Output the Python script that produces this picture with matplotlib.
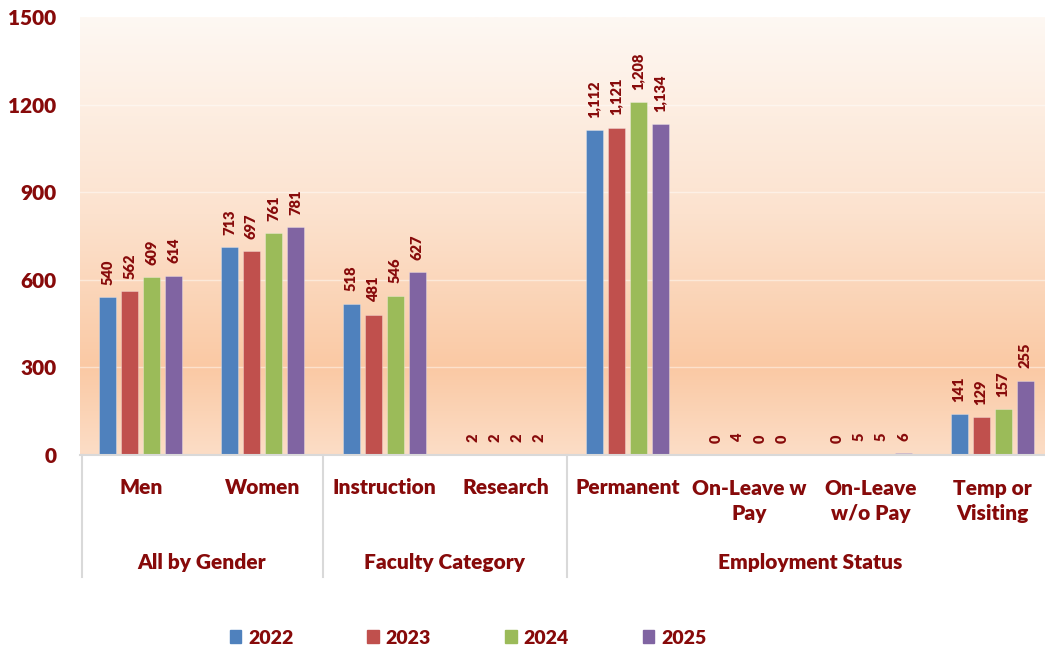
import numpy as np
import matplotlib
matplotlib.use("Agg")
import matplotlib.pyplot as plt
from matplotlib.colors import LinearSegmentedColormap
from matplotlib.lines import Line2D
import matplotlib.transforms as mtransforms

categories = ["Men", "Women", "Instruction", "Research", "Permanent",
              "On-Leave w\nPay", "On-Leave\nw/o Pay", "Temp or\nVisiting"]
groups = ["All by Gender", "Faculty Category", "Employment Status"]
group_spans = [(0, 1), (2, 3), (4, 7)]
years = ["2022", "2023", "2024", "2025"]
v2022 = [540, 713, 518, 2, 1112, 0, 0, 141]
v2023 = [562, 697, 481, 2, 1121, 4, 5, 129]
v2024 = [609, 761, 546, 2, 1208, 0, 5, 157]
v2025 = [614, 781, 627, 2, 1134, 0, 6, 255]
series = [v2022, v2023, v2024, v2025]
colors = ["#4F81BD", "#C0504D", "#9BBB59", "#8064A2"]
yticks = [0, 300, 600, 900, 1200, 1500]

TXT = "#870A0A"
FONT = "Lato"
WT = "heavy"

W, H = 1045, 652
fig = plt.figure(figsize=(W / 100, H / 100), dpi=100)
left_px, right_px, top_px, bot_px = 80, 1045, 17, 455
ax = fig.add_axes([left_px / W, 1 - bot_px / H, (right_px - left_px) / W, (bot_px - top_px) / H])

# gradient background
cmap = LinearSegmentedColormap.from_list("bg", [(0, "#FCDDC6"), (0.2, "#FAC9A4"), (0.55, "#FCE2CE"), (1, "#FEF8F3")])
grad = np.linspace(0, 1, 256).reshape(-1, 1)
ax.imshow(grad, extent=[0, 1, 0, 1], transform=ax.transAxes, cmap=cmap, origin="lower",
          aspect="auto", zorder=0)

x = np.arange(len(categories))
step = 0.181
bw = 0.14
for i, (vals, c, yr) in enumerate(zip(series, colors, years)):
    xs = x + (i - 1.5) * step
    ax.bar(xs, vals, width=bw, color=c, edgecolor=(1, 1, 1, 0.35), linewidth=0.6, zorder=3, label=yr)
    for xi, v in zip(xs, vals):
        ax.text(xi, v + 42, f"{v:,}", rotation=90, ha="center", va="bottom",
                fontsize=10.5, fontweight=WT, color=TXT, family=FONT, zorder=4)

ax.set_xlim(-0.5, (right_px - 141) / 121.6)
ax.set_ylim(0, 1500)
ax.set_yticks(yticks)
ax.set_yticklabels([str(t) for t in yticks], fontsize=15, fontweight=WT, color=TXT, family=FONT)
ax.tick_params(axis="y", length=0, pad=17)
ax.set_xticks([])
for t in yticks[1:-1]:
    ax.axhline(t, color="white", alpha=0.45, lw=1, zorder=1)
for s in ["top", "right", "left"]:
    ax.spines[s].set_visible(False)
ax.spines["bottom"].set_color("#D9D9D9")
ax.spines["bottom"].set_linewidth(1.5)
ax.spines["bottom"].set_zorder(5)

trans = mtransforms.blended_transform_factory(ax.transData, ax.transAxes)
def fy(py):
    return (bot_px - py) / (bot_px - top_px)

for xi, lab in zip(x, categories):
    yy = 487 if "\n" not in lab else 501
    ax.text(xi, fy(yy), lab, transform=trans, ha="center", va="center", fontsize=15,
            fontweight=WT, color=TXT, family=FONT, linespacing=1.35)
for (a, b), g in zip(group_spans, groups):
    ax.text((a + b) / 2, fy(563), g, transform=trans, ha="center", va="center", fontsize=15,
            fontweight=WT, color=TXT, family=FONT)
for xs in [-0.485, 1.5, 3.5]:
    ax.add_line(Line2D([xs, xs], [0, fy(577)], transform=trans, color="#D9D9D9", lw=1.5, clip_on=False))

handles = [plt.Rectangle((0, 0), 1, 1, color=c) for c in colors]
leg = fig.legend(handles, years, loc="center", bbox_to_anchor=(468 / W, 1 - 638 / H), ncol=4,
                 frameon=False, handlelength=0.6, handleheight=0.6, handletextpad=0.35,
                 columnspacing=3.8, prop={"family": FONT, "weight": WT, "size": 14})
for t in leg.get_texts():
    t.set_color(TXT)

fig.savefig("out.png", dpi=100, facecolor="white")
